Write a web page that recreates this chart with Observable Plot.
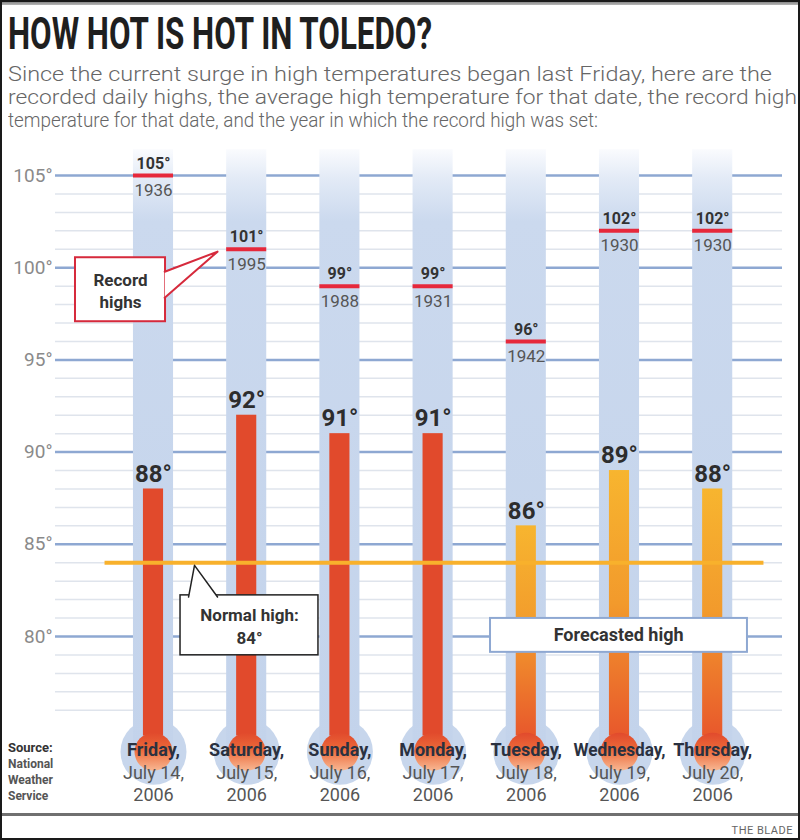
<!DOCTYPE html>
<html><head><meta charset="utf-8">
<script src="https://cdn.jsdelivr.net/npm/d3@7"></script>
<script src="https://cdn.jsdelivr.net/npm/@observablehq/plot@0.6"></script>
<style>
html,body{margin:0;padding:0;background:#fff;}
#wrap{position:relative;width:800px;height:840px;overflow:hidden;background:#fff;font-family:Roboto,"Liberation Sans",sans-serif;}
.abs{position:absolute;white-space:nowrap;transform-origin:0 0;}
#frame{position:absolute;left:0;top:0;width:800px;height:840px;box-sizing:border-box;border:2px solid #1a1a1a;pointer-events:none;}
#topbar{position:absolute;left:0;top:0;width:800px;height:5px;background:linear-gradient(#6a6a6a,#b8b8b8);}
#title{left:8px;top:12px;font-size:44px;font-weight:bold;color:#1f1f1f;line-height:1;}
.sub{left:8px;font-size:21px;color:#666;font-weight:300;line-height:1;}
#chart{position:absolute;left:0;top:135px;}
#source{left:8px;top:740px;font-size:12px;line-height:16px;color:#555;font-weight:bold;}
#footline{position:absolute;left:0;top:813px;width:800px;height:3px;background:#707070;}
#credit{right:7px;top:825px;font-size:11px;color:#666;line-height:1;letter-spacing:0.5px;}
</style>
</head>
<body>
<div id="wrap">
  <div id="topbar"></div>
  <div id="title" class="abs">HOW HOT IS HOT IN TOLEDO?</div>
  <div id="sub1" class="abs sub" style="top:64px">Since the current surge in high temperatures began last Friday, here are the</div>
  <div id="sub2" class="abs sub" style="top:87px">recorded daily highs, the average high temperature for that date, the record high</div>
  <div id="sub3" class="abs sub" style="top:110px">temperature for that date, and the year in which the record high was set:</div>
  <div id="chart"></div>
  <div id="source" class="abs"><span style="font-size:13px;color:#333">Source:</span><br>National<br>Weather<br>Service</div>
  <div id="footline"></div>
  <div id="credit" class="abs">THE BLADE</div>
  <div id="frame"></div>
</div>
<script>
// ---- data ----
const days = ["Friday,", "Saturday,", "Sunday,", "Monday,", "Tuesday,", "Wednesday,", "Thursday,"];
const dates = ["July 14,", "July 15,", "July 16,", "July 17,", "July 18,", "July 19,", "July 20,"];
const years = ["2006", "2006", "2006", "2006", "2006", "2006", "2006"];
const highs = [88, 92, 91, 91, 86, 89, 88];
const isForecast = [false, false, false, false, true, true, true];
const records = [105, 101, 99, 99, 96, 102, 102];
const recordYears = [1936, 1995, 1988, 1931, 1942, 1930, 1930];
const normalHigh = 84;
const yTicks = [80, 85, 90, 95, 100, 105];
const minorTicks = [76, 77, 78, 79, 81, 82, 83, 84, 86, 87, 88, 89, 91, 92, 93, 94, 96, 97, 98, 99, 101, 102, 103, 104];

const rows = days.map((day, i) => ({
  i, day, date: dates[i], year: years[i], high: highs[i], forecast: isForecast[i],
  record: records[i], recordYear: recordYears[i]
}));

// thermometer geometry (in scale units)
const TUBE_TOP = 106.4, BULB = 73.75, BAR_BASE = 74.6;
const TW = 0.215, BW = 0.108;

const chart = Plot.plot({
  width: 800, height: 680,
  marginLeft: 55, marginRight: 18, marginTop: 0, marginBottom: 0,
  style: {background: "transparent", fontFamily: "Roboto, sans-serif", fontSize: "19px", color: "#8a8a8a", overflow: "visible"},
  x: {type: "linear", domain: [0, 6], range: [153, 712.2], axis: null},
  y: {domain: [80, 105], range: [501, 40], ticks: yTicks, tickFormat: d => d + "°", tickSize: 0, tickPadding: 3, label: null},
  marks: [
    Plot.ruleY(minorTicks, {stroke: "#dfe4ec", strokeWidth: 1.5}),
    Plot.ruleY(yTicks, {stroke: "#8ea8d2", strokeWidth: 2.5}),
    // tubes and bulbs
    Plot.dot(rows, {x: "i", y: () => BULB, r: 33, fill: "#c7d6ec"}),
    Plot.rect(rows, {x1: d => d.i - TW, x2: d => d.i + TW, y1: () => BULB, y2: () => TUBE_TOP, fill: "url(#tubeGrad)"}),
    // mercury
    Plot.rect(rows.filter(d => !d.forecast), {x1: d => d.i - BW, x2: d => d.i + BW, y1: () => BAR_BASE, y2: "high", fill: "#e14a2c"}),
    Plot.rect(rows.filter(d => d.forecast), {x1: d => d.i - BW, x2: d => d.i + BW, y1: () => BAR_BASE, y2: "high", fill: "url(#fcGrad)"}),
    Plot.dot(rows, {x: "i", y: () => BULB, r: 19, fill: "url(#flareGrad)"}),
    // record marks
    Plot.ruleY(rows, {y: "record", x1: d => d.i - TW, x2: d => d.i + TW, stroke: "#e6283b", strokeWidth: 4}),
    Plot.text(rows, {x: "i", y: "record", text: d => d.record + "°", dy: -12, fontSize: 16, fontWeight: "bold", fill: "#333"}),
    Plot.text(rows, {x: "i", y: "record", text: d => String(d.recordYear), dy: 15, fontSize: 17, fill: "#555"}),
    // daily highs
    Plot.text(rows, {x: "i", y: "high", text: d => d.high + "°", dy: -15, fontSize: 24, fontWeight: "bold", fill: "#2d2d2d"}),
    // normal high line
    Plot.ruleY([normalHigh], {x1: -0.52, x2: 6.55, stroke: "#f8b12c", strokeWidth: 4}),
    // callout: record highs
    Plot.rect([0], {x1: -0.837, x2: 0.129, y1: 97.07, y2: 100.54, fill: "white", stroke: "#d62a3c", strokeWidth: 2}),
    Plot.line([[0.12, 99.78], [0.687, 100.87], [0.12, 98.37]], {x: d => d[0], y: d => d[1], fill: "white", stroke: "#d62a3c", strokeWidth: 2}),
    Plot.text(["Record\nhighs"], {x: -0.354, y: 98.8, lineHeight: 1.3, fontSize: 17, fontWeight: "bold", fill: "#333"}),
    // callout: normal high
    Plot.rect([0], {x1: 0.29, x2: 1.77, y1: 78.98, y2: 82.23, fill: "white", stroke: "#222", strokeWidth: 1.5}),
    Plot.line([[0.376, 82.14], [0.44, 83.86], [0.687, 82.14]], {x: d => d[0], y: d => d[1], fill: "white", stroke: "#222", strokeWidth: 1.5}),
    Plot.text(["Normal high:\n" + normalHigh + "°"], {x: 1.03, y: 80.6, lineHeight: 1.3, fontSize: 17, fontWeight: "bold", fill: "#333"}),
    // callout: forecast
    Plot.rect([0], {x1: 3.616, x2: 6.373, y1: 79.14, y2: 80.98, fill: "white", stroke: "#8ea8d2", strokeWidth: 2}),
    Plot.text(["Forecasted high"], {x: 4.99, y: 80.06, fontSize: 18, fontWeight: "bold", fill: "#333"}),
    // day labels
    Plot.text(rows, {x: "i", frameAnchor: "bottom", lineAnchor: "middle", dy: -65, text: "day", fontSize: 18, fontWeight: "bold", fill: "#2a3140"}),
    Plot.text(rows, {x: "i", frameAnchor: "bottom", lineAnchor: "middle", dy: -42, text: "date", fontSize: 18, fill: "#555"}),
    Plot.text(rows, {x: "i", frameAnchor: "bottom", lineAnchor: "middle", dy: -20, text: "year", fontSize: 18, fill: "#555"})
  ]
});

const svg = d3.select(chart);
const defs = svg.insert("defs", ":first-child");
function lin(id, stops) {
  const g = defs.append("linearGradient").attr("id", id).attr("x1", 0).attr("y1", 0).attr("x2", 0).attr("y2", 1);
  stops.forEach(([o, c]) => g.append("stop").attr("offset", o).attr("stop-color", c));
}
lin("tubeGrad", [[0, "#fafbfe"], [0.05, "#e2eaf6"], [0.12, "#cbd9ee"], [1, "#c3d3eb"]]);
lin("fcGrad", [[0, "#f7b52f"], [0.5, "#f29a2c"], [1, "#e8582c"]]);
lin("flareGrad", [[0, "#e14a2c"], [0.45, "#ec6a3a"], [1, "#f8b894"]]);

document.getElementById("chart").appendChild(chart);

// squeeze overlong day labels
svg.selectAll("text").each(function () {
  const t = this.textContent;
  if (days.includes(t) && this.getComputedTextLength && this.getComputedTextLength() > 92) {
    this.setAttribute("textLength", 92);
    this.setAttribute("lengthAdjust", "spacingAndGlyphs");
  }
});

function fit(id, w) {
  const el = document.getElementById(id);
  el.style.transform = "none";
  const r = el.getBoundingClientRect().width;
  el.style.transform = `scaleX(${w / r})`;
}
function fitAll() {
  fit("title", 424);
  fit("sub1", 764);
  fit("sub2", 789);
  fit("sub3", 590);
}
fitAll();
if (document.fonts && document.fonts.ready) document.fonts.ready.then(fitAll);
</script>
</body></html>
